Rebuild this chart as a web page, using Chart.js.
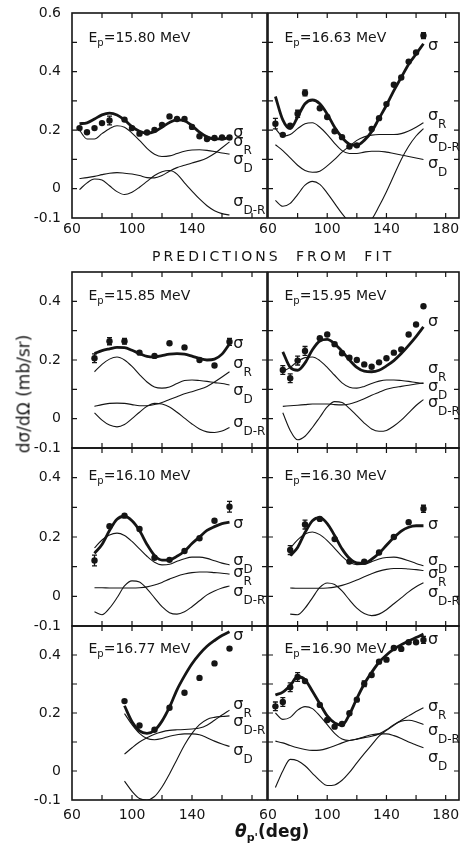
<!DOCTYPE html>
<html><head><meta charset="utf-8">
<script src="https://cdn.jsdelivr.net/npm/chart.js@4.4.1/dist/chart.umd.min.js"></script>
<style>
html,body{margin:0;padding:0;background:#fff;}
body{width:463px;height:843px;position:relative;overflow:hidden;font-family:'DejaVu Sans',sans-serif;color:#151515;}
canvas{position:absolute;left:0;top:0;}
.t{position:absolute;white-space:nowrap;line-height:1;}
</style></head><body>
<canvas id="p1" width="463" height="843"></canvas>
<canvas id="p2" width="463" height="843"></canvas>
<canvas id="p3" width="463" height="843"></canvas>
<canvas id="p4" width="463" height="843"></canvas>
<canvas id="p5" width="463" height="843"></canvas>
<canvas id="p6" width="463" height="843"></canvas>
<canvas id="p7" width="463" height="843"></canvas>
<canvas id="p8" width="463" height="843"></canvas>
<div class="t" style="left:24px;top:394px;font-size:17px;transform:translate(-50%,-50%) rotate(-90deg);">dσ/dΩ (mb/sr)</div>
<div class="t" style="left:152px;top:249px;font-size:14px;letter-spacing:3.1px;">PREDICTIONS&nbsp; FROM&nbsp; FIT</div>
<div class="t" style="left:235px;top:823px;font-size:17px;font-weight:bold;"><i>θ</i><sub style="font-size:11px">p'</sub>(deg)</div>
<script>
// ---------- DATA ----------
const TH_65 = [65,70,75,80,85,90,95,100,105,110,115,120,125,130,135,140,145,150,155,160,165];
const TH_70 = [70,75,80,85,90,95,100,105,110,115,120,125,130,135,140,145,150,155,160,165];
const TH_75 = [75,80,85,90,95,100,105,110,115,120,125,130,135,140,145,150,155,160,165];
const TH_95 = [95,100,105,110,115,120,125,130,135,140,145,150,155,160,165];
const X_TICKS = [60,80,100,120,140,160,180];
const X_LABELS_LEFT = [60,100,140];
const X_LABELS_RIGHT = [60,100,140,180];
const Y_LABELS_TOP = [0.6,0.4,0.2,0,-0.1];
const Y_LABELS = [0.4,0.2,0,-0.1];

// Ep = 15.80 MeV
const e1580_ptTheta = [65,70,75,80,85,95,100,105,110,115,120,125,130,135,140,145,150,155,160,165];
const e1580_ptVal   = [0.207,0.193,0.207,0.224,0.233,0.236,0.207,0.188,0.192,0.201,0.218,0.247,0.238,0.238,0.211,0.179,0.170,0.173,0.175,0.175];
const e1580_ptErr   = [0,0,0,0,0.015,0,0,0,0,0,0,0,0,0,0,0,0,0,0,0];
const e1580_sig   = [0.222,0.225,0.238,0.252,0.258,0.252,0.235,0.212,0.196,0.190,0.195,0.210,0.226,0.235,0.232,0.215,0.193,0.177,0.170,0.170,0.175];
const e1580_sigR  = [0.035,0.038,0.042,0.048,0.053,0.055,0.053,0.050,0.045,0.038,0.037,0.045,0.060,0.072,0.080,0.088,0.095,0.105,0.120,0.140,0.160];
const e1580_sigD  = [0.200,0.170,0.170,0.188,0.205,0.215,0.210,0.190,0.165,0.138,0.118,0.110,0.112,0.120,0.128,0.132,0.133,0.131,0.127,0.122,0.118];
const e1580_sigDR = [-0.003,0.020,0.033,0.030,0.010,-0.010,-0.020,-0.012,0.005,0.025,0.045,0.058,0.062,0.050,0.020,-0.008,-0.035,-0.058,-0.075,-0.085,-0.090];

// Ep = 16.63 MeV
const e1663_ptTheta = [65,70,75,80,85,95,100,105,110,115,120,130,135,140,145,150,155,160,165];
const e1663_ptVal   = [0.222,0.184,0.215,0.256,0.327,0.275,0.245,0.196,0.176,0.144,0.148,0.204,0.241,0.289,0.355,0.380,0.434,0.465,0.523];
const e1663_ptErr   = [0.018,0,0,0.012,0.010,0,0,0,0,0,0,0,0,0,0,0,0,0,0.010];
const e1663_sig   = [0.315,0.235,0.205,0.245,0.290,0.303,0.290,0.255,0.210,0.175,0.152,0.148,0.165,0.195,0.240,0.285,0.335,0.380,0.425,0.460,0.495];
const e1663_sigR  = [0.150,0.130,0.105,0.080,0.062,0.056,0.060,0.078,0.100,0.125,0.145,0.165,0.177,0.183,0.185,0.185,0.185,0.188,0.197,0.210,0.225];
const e1663_sigD  = [0.205,0.180,0.185,0.205,0.222,0.225,0.210,0.185,0.155,0.130,0.120,0.120,0.125,0.128,0.128,0.125,0.120,0.115,0.110,0.105,0.100];
const e1663_sigDR = [-0.040,-0.060,-0.050,-0.020,0.012,0.025,0.015,-0.015,-0.050,-0.085,-0.115,-0.140,-0.130,-0.105,-0.060,-0.010,0.045,0.100,0.145,0.180,0.205];

// Ep = 15.85 MeV
const e1585_ptTheta = [75,85,95,105,115,125,135,145,155,165];
const e1585_ptVal   = [0.206,0.264,0.264,0.225,0.214,0.257,0.243,0.200,0.181,0.262];
const e1585_ptErr   = [0.015,0.012,0.010,0,0,0,0,0,0,0.012];
const e1585_sig   = [0.222,0.232,0.238,0.243,0.242,0.233,0.222,0.212,0.210,0.215,0.220,0.222,0.220,0.213,0.205,0.200,0.203,0.220,0.255];
const e1585_sigR  = [0.042,0.048,0.052,0.053,0.052,0.048,0.044,0.044,0.048,0.055,0.065,0.075,0.085,0.092,0.100,0.110,0.125,0.142,0.160];
const e1585_sigD  = [0.160,0.185,0.203,0.210,0.200,0.178,0.150,0.125,0.108,0.104,0.108,0.120,0.130,0.132,0.130,0.127,0.123,0.120,0.115];
const e1585_sigDR = [0.020,-0.005,-0.022,-0.028,-0.020,0.000,0.022,0.042,0.052,0.050,0.040,0.022,0.002,-0.018,-0.035,-0.045,-0.047,-0.042,-0.030];

// Ep = 15.95 MeV
const e1595_ptTheta = [70,75,80,85,95,100,105,110,115,120,125,130,135,140,145,150,155,160,165];
const e1595_ptVal   = [0.166,0.138,0.198,0.231,0.274,0.287,0.254,0.223,0.208,0.200,0.185,0.177,0.192,0.206,0.225,0.236,0.287,0.321,0.383];
const e1595_ptErr   = [0.015,0.015,0.015,0.015,0,0,0,0,0,0,0,0,0,0,0,0,0,0,0];
const e1595_sig   = [0.228,0.175,0.165,0.190,0.235,0.265,0.270,0.255,0.230,0.200,0.175,0.162,0.160,0.165,0.180,0.198,0.222,0.250,0.280,0.313];
const e1595_sigR  = [0.042,0.044,0.046,0.048,0.050,0.050,0.050,0.048,0.047,0.050,0.058,0.068,0.080,0.090,0.100,0.106,0.110,0.114,0.118,0.122];
const e1595_sigD  = [0.160,0.175,0.195,0.208,0.210,0.198,0.175,0.148,0.122,0.107,0.104,0.110,0.120,0.128,0.132,0.132,0.130,0.127,0.123,0.120];
const e1595_sigDR = [0.020,-0.040,-0.072,-0.060,-0.030,0.005,0.040,0.058,0.055,0.035,0.010,-0.015,-0.035,-0.043,-0.040,-0.025,-0.005,0.020,0.045,0.065];

// Ep = 16.10 MeV
const e1610_ptTheta = [75,85,95,105,115,125,135,145,155,165];
const e1610_ptVal   = [0.121,0.236,0.272,0.227,0.130,0.123,0.153,0.196,0.255,0.302];
const e1610_ptErr   = [0.018,0,0,0,0,0,0,0,0,0.018];
const e1610_sig   = [0.145,0.175,0.222,0.260,0.270,0.255,0.222,0.175,0.138,0.122,0.123,0.135,0.152,0.178,0.200,0.222,0.235,0.245,0.250];
const e1610_sigR  = [0.029,0.029,0.028,0.028,0.028,0.028,0.029,0.032,0.038,0.047,0.058,0.068,0.075,0.080,0.082,0.082,0.080,0.078,0.075];
const e1610_sigD  = [0.163,0.190,0.207,0.213,0.205,0.185,0.160,0.135,0.115,0.106,0.108,0.118,0.127,0.132,0.132,0.128,0.120,0.112,0.106];
const e1610_sigDR = [-0.052,-0.062,-0.040,-0.005,0.035,0.052,0.048,0.025,-0.005,-0.035,-0.055,-0.060,-0.052,-0.035,-0.015,0.005,0.018,0.028,0.035];

// Ep = 16.30 MeV
const e1630_ptTheta = [75,85,95,105,115,125,135,145,155,165];
const e1630_ptVal   = [0.156,0.242,0.261,0.193,0.117,0.117,0.148,0.200,0.250,0.295];
const e1630_ptErr   = [0.015,0.015,0,0,0,0,0,0,0,0.012];
const e1630_sig   = [0.137,0.165,0.215,0.255,0.265,0.245,0.205,0.160,0.128,0.113,0.112,0.125,0.145,0.172,0.198,0.220,0.233,0.238,0.238];
const e1630_sigR  = [0.028,0.027,0.027,0.027,0.027,0.028,0.031,0.037,0.045,0.055,0.066,0.076,0.085,0.091,0.094,0.094,0.092,0.090,0.087];
const e1630_sigD  = [0.162,0.190,0.210,0.217,0.208,0.188,0.162,0.135,0.115,0.107,0.108,0.117,0.126,0.131,0.132,0.128,0.120,0.111,0.103];
const e1630_sigDR = [-0.060,-0.062,-0.040,-0.005,0.030,0.045,0.040,0.018,-0.012,-0.040,-0.058,-0.065,-0.060,-0.045,-0.025,-0.005,0.015,0.032,0.046];

// Ep = 16.77 MeV
const e1677_ptTheta = [95,105,115,125,135,145,155,165];
const e1677_ptVal   = [0.241,0.157,0.142,0.218,0.270,0.321,0.371,0.422];
const e1677_ptErr   = [0,0,0,0,0,0,0,0];
const e1677_sig   = [0.225,0.170,0.138,0.130,0.140,0.172,0.220,0.280,0.328,0.370,0.403,0.430,0.450,0.467,0.480];
const e1677_sigR  = [0.058,0.080,0.100,0.115,0.127,0.135,0.140,0.142,0.143,0.145,0.148,0.158,0.175,0.193,0.210];
const e1677_sigD  = [0.198,0.160,0.130,0.112,0.108,0.112,0.120,0.125,0.128,0.128,0.125,0.115,0.103,0.093,0.085];
const e1677_sigDR = [-0.035,-0.070,-0.095,-0.100,-0.088,-0.055,-0.010,0.040,0.090,0.130,0.160,0.178,0.185,0.188,0.190];

// Ep = 16.90 MeV
const e1690_ptTheta = [65,70,75,80,85,95,100,105,110,115,120,125,130,135,140,145,150,155,160,165];
const e1690_ptVal   = [0.223,0.238,0.289,0.324,0.310,0.228,0.176,0.153,0.162,0.199,0.246,0.301,0.331,0.377,0.384,0.424,0.421,0.444,0.444,0.452];
const e1690_ptErr   = [0.015,0.015,0.015,0.015,0,0,0,0,0,0,0,0.010,0,0,0,0,0,0,0,0.012];
const e1690_sig   = [0.262,0.272,0.295,0.325,0.315,0.275,0.232,0.190,0.166,0.158,0.195,0.250,0.300,0.340,0.375,0.400,0.420,0.435,0.448,0.460,0.472];
const e1690_sigR  = [-0.057,0.000,0.040,0.035,0.018,-0.008,-0.033,-0.050,-0.048,-0.032,-0.005,0.028,0.060,0.090,0.120,0.140,0.158,0.175,0.190,0.205,0.218];
const e1690_sigD  = [0.200,0.178,0.185,0.210,0.222,0.215,0.190,0.160,0.130,0.110,0.105,0.110,0.118,0.125,0.128,0.128,0.122,0.112,0.100,0.090,0.080];
const e1690_sigDR = [0.103,0.097,0.088,0.080,0.074,0.071,0.072,0.078,0.087,0.097,0.105,0.110,0.115,0.120,0.128,0.142,0.160,0.172,0.175,0.170,0.160];

// ---------- LAYOUT / STYLE ----------
const W = 463, H = 843, YW = 50, XH = 24;
const INK = '#151515';
const FONT = "'DejaVu Sans'";
const COLS = [{left:72, right:267, xmax:190}, {left:268, right:461.5, xmax:189}];
const ROWS = [
  {top:13,  bottom:218, ymax:0.6, epOff:29, xPad:-5},
  {top:272, bottom:448, ymax:0.5, epOff:28, xPad:0},
  {top:448, bottom:626, ymax:0.5, epOff:32, xPad:0},
  {top:626, bottom:800, ymax:0.5, epOff:27, xPad:-1}
];
Chart.defaults.font.family = FONT;

const xy = (xs, ys) => xs.map((x, i) => ({x, y: ys[i]}));

function makePanel(id, row, col, ep, theta, sig, sigR, sigD, sigDR, ptTheta, ptVal, ptErr, labels) {
  const R = ROWS[row], C = COLS[col];
  const showX = (row === 0 || row === 3);
  const showY = (col === 0);
  const xLabels = col === 0 ? X_LABELS_LEFT : X_LABELS_RIGHT;
  const yLabels = row === 0 ? Y_LABELS_TOP : Y_LABELS;
  const thin = {borderColor: INK, borderWidth: 1.1, pointRadius: 0, fill: false, cubicInterpolationMode: 'monotone'};
  const datasets = [
    Object.assign({}, thin, {data: xy(theta, sigR)}),
    Object.assign({}, thin, {data: xy(theta, sigD)}),
    Object.assign({}, thin, {data: xy(theta, sigDR)}),
    {data: xy(theta, sig), borderColor: INK, borderWidth: 2.8, pointRadius: 0, fill: false, cubicInterpolationMode: 'monotone'},
    {data: xy(ptTheta, ptVal), showLine: false, pointRadius: 3.2, pointBackgroundColor: INK, pointBorderWidth: 0, borderColor: INK}
  ];
  const deco = {
    id: 'deco' + id,
    afterDatasetsDraw(chart) {
      const {ctx, chartArea: a, scales: {x, y}} = chart;
      ctx.save();
      ctx.strokeStyle = INK; ctx.fillStyle = INK;
      ctx.lineWidth = 1.3;
      ptTheta.forEach((t, i) => {
        const e = ptErr[i]; if (!e) return;
        const px = x.getPixelForValue(t);
        const y1 = y.getPixelForValue(ptVal[i] - e), y2 = y.getPixelForValue(ptVal[i] + e);
        ctx.beginPath();
        ctx.moveTo(px, y1); ctx.lineTo(px, y2);
        ctx.moveTo(px - 2.5, y1); ctx.lineTo(px + 2.5, y1);
        ctx.moveTo(px - 2.5, y2); ctx.lineTo(px + 2.5, y2);
        ctx.stroke();
      });
      ctx.lineWidth = 1.6;
      ctx.strokeRect(a.left, a.top, a.right - a.left, a.bottom - a.top);
      ctx.lineWidth = 1.2;
      ctx.beginPath();
      x.ticks.forEach(t => {
        if (t.value <= x.min || t.value >= x.max) return;
        const px = x.getPixelForValue(t.value);
        ctx.moveTo(px, a.top); ctx.lineTo(px, a.top + 5);
        ctx.moveTo(px, a.bottom); ctx.lineTo(px, a.bottom - 5);
      });
      y.ticks.forEach(t => {
        if (t.value <= y.min + 1e-9 || t.value >= y.max - 1e-9) return;
        const py = y.getPixelForValue(t.value);
        ctx.moveTo(a.left, py); ctx.lineTo(a.left + 5, py);
        ctx.moveTo(a.right, py); ctx.lineTo(a.right - 5, py);
      });
      ctx.stroke();
      const ex = a.left + 16.5, ey = a.top + R.epOff;
      ctx.textBaseline = 'alphabetic'; ctx.textAlign = 'left';
      ctx.font = '14px ' + FONT;
      ctx.fillText('E', ex, ey);
      let cx = ex + ctx.measureText('E').width;
      ctx.font = '10px ' + FONT;
      ctx.fillText('p', cx, ey + 3.5);
      cx += ctx.measureText('p').width;
      ctx.font = '14px ' + FONT;
      ctx.fillText('=' + ep + ' MeV', cx, ey);
      labels.forEach(l => {
        const lx = x.getPixelForValue(l[1]);
        const ly = y.getPixelForValue(l[2]) + 4.5;
        ctx.font = '16px ' + FONT;
        ctx.fillText('σ', lx, ly);
        if (l[0]) {
          const w = ctx.measureText('σ').width;
          ctx.font = '12px ' + FONT;
          ctx.fillText(l[0], lx + w, ly + 8);
        }
      });
      ctx.restore();
    }
  };
  new Chart(document.getElementById(id), {
    type: 'line',
    data: {datasets},
    options: {
      responsive: false, animation: false, devicePixelRatio: 1,
      layout: {padding: {left: C.left - YW, top: R.top, right: W - C.right, bottom: H - R.bottom - XH}},
      plugins: {legend: {display: false}, tooltip: {enabled: false}},
      scales: {
        x: {
          type: 'linear', min: 60, max: C.xmax,
          grid: {display: false}, border: {display: false},
          afterBuildTicks: s => { s.ticks = X_TICKS.map(v => ({value: v})); },
          afterFit: s => { s.height = XH; },
          ticks: {
            display: showX, autoSkip: false, maxRotation: 0, minRotation: 0, padding: R.xPad,
            color: INK, font: {size: 14, family: FONT},
            callback: v => xLabels.includes(Math.round(v)) ? String(Math.round(v)) : ''
          }
        },
        y: {
          type: 'linear', min: -0.1, max: R.ymax,
          grid: {display: false}, border: {display: false},
          afterFit: s => { s.width = YW; },
          ticks: {
            display: showY, stepSize: 0.1, autoSkip: false, padding: 3,
            color: INK, font: {size: 14, family: FONT},
            callback: v => {
              if (!yLabels.some(l => Math.abs(l - v) < 1e-6)) return '';
              return Math.abs(v) < 1e-9 ? '0' : v.toFixed(1);
            }
          }
        }
      }
    },
    plugins: [deco]
  });
}

// label positions: [subscript, angle, value]
makePanel('p1', 0, 0, '15.80', TH_65, e1580_sig, e1580_sigR, e1580_sigD, e1580_sigDR, e1580_ptTheta, e1580_ptVal, e1580_ptErr,
  [['', 167.5, 0.191], ['R', 167.5, 0.160], ['D', 167.5, 0.099], ['D-R', 167.5, -0.044]]);
makePanel('p2', 0, 1, '16.63', TH_65, e1663_sig, e1663_sigR, e1663_sigD, e1663_sigDR, e1663_ptTheta, e1663_ptVal, e1663_ptErr,
  [['', 168, 0.490], ['R', 168, 0.249], ['D-R', 168, 0.171], ['D', 168, 0.085]]);
makePanel('p3', 1, 0, '15.85', TH_75, e1585_sig, e1585_sigR, e1585_sigD, e1585_sigDR, e1585_ptTheta, e1585_ptVal, e1585_ptErr,
  [['', 167.5, 0.256], ['R', 167.5, 0.188], ['D', 167.5, 0.097], ['D-R', 167.5, -0.012]]);
makePanel('p4', 1, 1, '15.95', TH_70, e1595_sig, e1595_sigR, e1595_sigD, e1595_sigDR, e1595_ptTheta, e1595_ptVal, e1595_ptErr,
  [['', 168, 0.330], ['R', 168, 0.171], ['D', 168, 0.110], ['D-R', 168, 0.056]]);
makePanel('p5', 2, 0, '16.10', TH_75, e1610_sig, e1610_sigR, e1610_sigD, e1610_sigDR, e1610_ptTheta, e1610_ptVal, e1610_ptErr,
  [['', 167.5, 0.244], ['D', 167.5, 0.122], ['R', 167.5, 0.081], ['D-R', 167.5, 0.017]]);
makePanel('p6', 2, 1, '16.30', TH_75, e1630_sig, e1630_sigR, e1630_sigD, e1630_sigDR, e1630_ptTheta, e1630_ptVal, e1630_ptErr,
  [['', 168, 0.241], ['D', 168, 0.122], ['R', 168, 0.076], ['D-R', 168, 0.014]]);
makePanel('p7', 3, 0, '16.77', TH_95, e1677_sig, e1677_sigR, e1677_sigD, e1677_sigDR, e1677_ptTheta, e1677_ptVal, e1677_ptErr,
  [['', 167.5, 0.466], ['R', 167.5, 0.231], ['D-R', 167.5, 0.169], ['D', 167.5, 0.072]]);
makePanel('p8', 3, 1, '16.90', TH_65, e1690_sig, e1690_sigR, e1690_sigD, e1690_sigDR, e1690_ptTheta, e1690_ptVal, e1690_ptErr,
  [['', 168, 0.455], ['R', 168, 0.224], ['D-R', 168, 0.138], ['D', 168, 0.045]]);
</script>
</body></html>
